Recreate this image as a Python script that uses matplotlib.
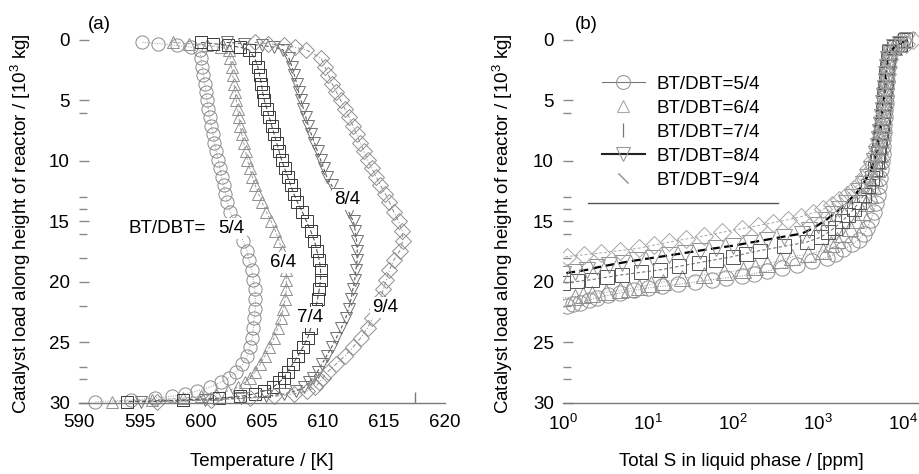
import matplotlib
matplotlib.use('Agg')
import matplotlib.pyplot as plt
from matplotlib.lines import Line2D
from matplotlib.ticker import FixedLocator, NullFormatter

plt.rcParams['font.family'] = ['Liberation Sans', 'DejaVu Sans']
plt.rcParams['mathtext.fontset'] = 'custom'
plt.rcParams['mathtext.rm'] = 'Liberation Sans'
plt.rcParams['mathtext.it'] = 'Liberation Sans:italic'
plt.rcParams['mathtext.bf'] = 'Liberation Sans:bold'

# ---------------- data ----------------
ratios = ['5/4', '6/4', '7/4', '8/4', '9/4']

# panel (a): temperature [K] vs catalyst load [10^3 kg] (same load positions for all ratios)
load_a = [0.2, 0.3, 0.45, 0.6, 0.8, 1.5, 2.2, 2.9, 3.6, 4.3, 5.0, 5.7, 6.4, 7.1, 7.8, 8.5, 9.2, 9.9, 10.6,
          11.3, 12.0, 12.7, 13.4, 14.2, 15.0, 15.8, 16.6, 17.4, 18.2, 19.0, 19.8, 20.6, 21.4, 22.2, 23.0, 23.8,
          24.6, 25.4, 26.1, 26.8, 27.4, 27.9, 28.3, 28.7, 29.0, 29.25, 29.45, 29.6, 29.75, 29.9]
temp_54 = [595.2, 596.5, 598.0, 599.2, 599.9, 600.0, 600.1, 600.2, 600.3, 600.4, 600.5, 600.6, 600.7, 600.85,
           601.0, 601.1, 601.25, 601.4, 601.55, 601.7, 601.85, 602.0, 602.15, 602.4, 602.75, 603.1, 603.45,
           603.75, 603.95, 604.15, 604.3, 604.4, 604.45, 604.45, 604.35, 604.3, 604.2, 604.0, 603.8, 603.4,
           602.9, 602.3, 601.6, 600.7, 599.7, 598.7, 597.6, 596.2, 594.3, 591.3]
temp_64 = [597.7, 599.0, 600.5, 601.6, 602.3, 602.4, 602.5, 602.6, 602.7, 602.8, 602.9, 603.0, 603.1, 603.2,
           603.35, 603.5, 603.65, 603.8, 604.0, 604.2, 604.45, 604.7, 605.0, 605.35, 605.75, 606.1, 606.4,
           606.65, 606.85, 606.95, 607.0, 607.0, 606.9, 606.75, 606.55, 606.3, 606.0, 605.6, 605.25, 604.85,
           604.45, 604.05, 603.6, 603.0, 602.2, 601.2, 600.0, 598.5, 596.0, 592.7]
temp_74 = [600.0, 601.0, 602.2, 603.2, 603.9, 604.4, 604.65, 604.8, 604.95, 605.05, 605.2, 605.4, 605.6, 605.8,
           606.0, 606.2, 606.4, 606.6, 606.85, 607.1, 607.35, 607.6, 607.9, 608.3, 608.65, 609.0, 609.3,
           609.5, 609.7, 609.8, 609.8, 609.7, 609.55, 609.4, 609.2, 609.0, 608.75, 608.35, 607.95, 607.5,
           607.1, 606.8, 606.4, 605.9, 605.2, 604.4, 603.2, 601.5, 598.5, 593.9]
temp_84 = [602.1, 603.5, 605.0, 606.0, 606.7, 607.2, 607.45, 607.65, 607.85, 608.0, 608.2, 608.4, 608.6, 608.8,
           609.05, 609.3, 609.55, 609.8, 610.05, 610.3, 610.7, 611.15, 611.6, 612.1, 612.5, 612.65, 612.75,
           612.8, 612.8, 612.7, 612.6, 612.45, 612.3, 612.1, 611.85, 611.5, 611.1, 610.7, 610.3, 609.9,
           609.55, 609.2, 608.85, 608.45, 607.8, 606.8, 605.3, 603.3, 600.3, 595.1]
temp_94 = [604.4, 605.5, 606.8, 607.7, 608.6, 609.85, 610.15, 610.45, 610.75, 611.1, 611.45, 611.8, 612.15,
           612.45, 612.75, 613.05, 613.35, 613.65, 614.0, 614.35, 614.7, 615.1, 615.45, 615.8, 616.2, 616.5,
           616.55, 616.3, 615.8, 615.45, 615.2, 614.95, 614.7, 614.4, 614.05, 613.65, 613.1, 612.45, 611.8,
           611.05, 610.4, 610.0, 609.7, 609.35, 608.7, 607.6, 606.0, 604.0, 600.8, 596.4]

# panel (b): total S in liquid phase [ppm] vs catalyst load [10^3 kg]
load_b_top = [0, 0.3, 0.6, 1.0, 1.6, 2.2, 2.8, 3.4, 4.0, 4.6, 5.2, 5.8, 6.4, 7.0, 7.6, 8.2, 8.8, 9.4, 10.0]
load_b_54 = load_b_top + [10.7, 11.4, 12.1, 12.8, 13.5, 14.2, 14.9, 15.5, 16.0, 16.5, 16.9, 17.3, 17.7,
                          18.0, 18.3, 18.6, 18.85, 19.1, 19.3, 19.5, 19.65, 19.8, 20.0, 20.2, 20.35, 20.5,
                          20.7, 20.9, 21.1, 21.3, 21.5, 21.7, 21.85, 22.0, 22.3]
sulfur_54 = [10000, 8913, 7943, 7079, 6761, 6607, 6531, 6457, 6310, 6310, 6237, 6166, 6095, 6026, 5957, 5888,
             5821, 5754, 5623, 5495, 5370, 5188, 5012, 4786, 4519, 4169, 3802, 3467, 3020, 2512, 1995, 1585,
             1259, 851, 562, 380, 251, 178, 126, 83, 56, 35.5, 22.4, 14.8, 10, 6.8, 4.7, 3.4, 2.5, 2.0, 1.58,
             1.32, 1.12, 0.71]
load_b_64 = load_b_top + [10.7, 11.4, 12.1, 12.8, 13.5, 14.2, 14.9, 15.5, 16.0, 16.5, 16.9, 17.4, 17.7,
                          17.9, 18.2, 18.5, 18.75, 19.0, 19.2, 19.4, 19.7, 20.0, 20.2, 20.4, 20.55, 20.7,
                          20.85, 21.0, 21.1, 21.2, 21.4]
sulfur_64 = [10000, 8913, 7943, 6918, 6683, 6531, 6457, 6310, 6166, 6095, 6026, 5957, 5888, 5754, 5689, 5559,
             5433, 5309, 5129, 4955, 4732, 4467, 4121, 3715, 3311, 2818, 2399, 1995, 1660, 1413, 1148, 759,
             501, 355, 251, 182, 132, 79, 45, 25, 15.1, 10.7, 7.9, 6.0, 4.7, 3.2, 2.2, 1.74, 1.38, 0.79]
load_b_74 = load_b_top + [10.7, 11.4, 12.1, 12.8, 13.4, 14.0, 14.5, 15.0, 15.5, 15.9, 16.3, 16.7, 17.05,
                          17.4, 17.65, 17.9, 18.15, 18.4, 18.7, 19.0, 19.2, 19.4, 19.6, 19.8, 19.95, 20.1,
                          20.3]
sulfur_74 = [10470, 9120, 7943, 6918, 6683, 6531, 6383, 6310, 6166, 6026, 5957, 5821, 5754, 5623, 5495, 5370,
             5248, 5070, 4898, 4624, 4315, 3890, 3467, 3020, 2630, 2239, 1905, 1585, 1318, 1072, 741, 398,
             209, 141, 100, 63, 40, 23.4, 13.8, 8.3, 5.0, 3.3, 2.2, 1.48, 1.0, 0.63]
load_b_84 = load_b_top + [10.7, 11.3, 11.9, 12.5, 13.0, 13.5, 14.0, 14.4, 14.9, 15.3, 15.7, 16.0, 16.25,
                          16.5, 16.75, 17.0, 17.2, 17.4, 17.6, 17.8, 18.0, 18.2, 18.4, 18.6, 18.8, 19.0,
                          19.15, 19.3, 19.5]
sulfur_84 = [11220, 9333, 7943, 7079, 6683, 6457, 6310, 6237, 6166, 6026, 5888, 5754, 5623, 5495, 5370, 5188,
             5012, 4786, 4571, 4217, 3802, 3388, 2951, 2512, 2138, 1778, 1514, 1230, 1000, 794, 646, 398, 251,
             158, 100, 63, 41, 27, 17.8, 11.5, 7.4, 5.0, 3.5, 2.5, 1.9, 1.38, 1.0, 0.63]
load_b_94 = load_b_top + [10.6, 11.2, 11.8, 12.3, 12.8, 13.2, 13.6, 14.0, 14.3, 14.6, 14.85, 15.1, 15.35,
                          15.6, 15.9, 16.2, 16.45, 16.7, 16.95, 17.2, 17.4, 17.6, 17.75, 17.9, 18.1]
sulfur_94 = [13183, 10715, 8511, 7244, 6761, 6607, 6457, 6310, 6166, 6095, 5957, 5821, 5689, 5559, 5370, 5188,
             4955, 4677, 4365, 3981, 3548, 3090, 2630, 2188, 1778, 1445, 1148, 871, 631, 447, 295, 195, 126,
             74, 45, 28, 17.8, 11.7, 7.9, 4.7, 2.8, 1.78, 1.12, 0.63]

# in-panel labels of panel (a): (temperature, load)
label_a_text = ['BT/DBT=', '5/4', '6/4', '7/4', '8/4', '9/4']
label_a_temp = [597.2, 602.5, 606.7, 608.9, 612.0, 615.1]
label_a_load = [15.6, 15.6, 18.4, 22.9, 13.2, 22.1]

x_a_ticks = [590, 595, 600, 605, 610, 615, 620]
x_b_ticks = [1, 10, 100, 1000, 10000]
y_ticks = [0, 5, 10, 15, 20, 25, 30]
y_minor_ticks = [6, 13, 14, 16, 18, 22, 27, 28]

# ---------------- styles ----------------
FS = 13.5
styles_a = [
    dict(marker='o', ms=9.5, mec='#8a8a8a', ls=(0, (1, 1.5)), color='#9a9a9a', lw=0.7),
    dict(marker='^', ms=9, mec='#8f8f8f', ls=(0, (3, 2)), color='#9a9a9a', lw=0.7),
    dict(marker='s', ms=8.5, mec='#3a3a3a', ls=(0, (4, 2)), color='#555555', lw=0.8),
    dict(marker='v', ms=9, mec='#707070', ls=(0, (3, 2)), color='#555555', lw=0.8),
    dict(marker='D', ms=8, mec='#8f8f8f', ls=(0, (4, 2, 1, 2)), color='#8a8a8a', lw=0.7),
]
styles_b = [
    dict(marker='o', ms=11, mec='#8f8f8f', ls=(0, (1, 1.5)), color='#8a8a8a', lw=0.7),
    dict(marker='^', ms=11, mec='#8f8f8f', ls=(0, (1, 1.5)), color='#999999', lw=0.7),
    dict(marker='s', ms=10, mec='#555555', ls=(0, (3, 2)), color='#777777', lw=0.8),
    dict(marker='v', ms=11, mec='#909090', ls=(0, (4, 2)), color='black', lw=1.6),
    dict(marker='D', ms=9, mec='#a5a5a5', ls=(0, (3, 2)), color='#aaaaaa', lw=0.7),
]

series_a = [(temp_54, load_a), (temp_64, load_a), (temp_74, load_a), (temp_84, load_a), (temp_94, load_a)]
series_b = [(sulfur_54, load_b_54), (sulfur_64, load_b_64), (sulfur_74, load_b_74),
            (sulfur_84, load_b_84), (sulfur_94, load_b_94)]

fig = plt.figure(figsize=(9.2, 4.74), dpi=100)
ax_a = fig.add_axes([0.08587, 0.14979, 0.39783, 0.7914])
ax_b = fig.add_axes([0.61196, 0.14979, 0.38804, 0.7914])

ylabel = 'Catalyst load along height of reactor / [10$^3$ kg]'


def style_axes(ax):
    for s in ['left', 'top', 'right']:
        ax.spines[s].set_visible(False)
    ax.spines['bottom'].set_color('#7a7a7a')
    ax.spines['bottom'].set_linewidth(1.0)
    ax.set_ylim(30, -1.0)
    ax.yaxis.set_major_locator(FixedLocator(y_ticks))
    ax.yaxis.set_minor_locator(FixedLocator(y_minor_ticks))
    ax.tick_params(axis='y', which='both', direction='in', length=7, width=1.0,
                   color='#8a8a8a', labelsize=FS, pad=6.5)
    ax.tick_params(axis='y', which='minor', length=6)
    ax.tick_params(axis='x', which='major', length=0, labelsize=FS, pad=8)
    ax.tick_params(axis='x', which='minor', direction='in', length=8, width=1.0, color='#7a7a7a')
    ax.set_ylabel(ylabel, fontsize=FS)


# ---------------- panel (a) ----------------
style_axes(ax_a)
for (t, y), st in zip(series_a, styles_a):
    ax_a.plot(t, y, mfc='none', mew=0.7, clip_on=False, **st)
ax_a.set_xlim(590, 620)
ax_a.xaxis.set_major_locator(FixedLocator(x_a_ticks))
ax_a.xaxis.set_minor_locator(FixedLocator([610, 615, 617.5]))
ax_a.xaxis.set_minor_formatter(NullFormatter())
ax_a.set_xlabel('Temperature / [K]', fontsize=FS)
ax_a.xaxis.set_label_coords(0.5, -0.133)
ax_a.yaxis.set_label_coords(-0.126, 0.477)
for txt, tx, ty in zip(label_a_text, label_a_temp, label_a_load):
    bb = None if txt.startswith('BT') else dict(facecolor='white', edgecolor='none', pad=1.5)
    ax_a.text(tx, ty, txt, fontsize=FS, ha='center', va='center', zorder=6, bbox=bb)
ax_a.text(0.0546, 1.008, '(a)', transform=ax_a.transAxes, fontsize=FS, ha='center', va='center')

# ---------------- panel (b) ----------------
style_axes(ax_b)
for (s, y), st in zip(series_b, styles_b):
    ax_b.plot(s, y, mfc='none', mew=0.7, **st)
ax_b.set_xscale('log')
ax_b.set_xlim(1, 10 ** 4.2)
ax_b.xaxis.set_major_locator(FixedLocator(x_b_ticks))
ax_b.xaxis.set_minor_locator(FixedLocator([10, 1000]))
ax_b.xaxis.set_minor_formatter(NullFormatter())
ax_b.tick_params(axis='x', which='major', length=0, labelsize=FS, pad=8)
ax_b.tick_params(axis='x', which='minor', direction='in', length=8, width=1.0, color='#7a7a7a')
ax_b.set_xlabel('Total S in liquid phase / [ppm]', fontsize=FS)
ax_b.xaxis.set_label_coords(0.5, -0.133)
ax_b.yaxis.set_label_coords(-0.134, 0.477)
ax_b.text(0.064, 1.008, '(b)', transform=ax_b.transAxes, fontsize=FS, ha='center', va='center')

handles = [
    Line2D([], [], marker='o', ms=10, mfc='none', mec='#999999', mew=0.8, color='#777777', lw=0.8),
    Line2D([], [], marker='^', ms=9, mfc='none', mec='#aaaaaa', mew=0.8, ls='none'),
    Line2D([], [], marker='|', ms=10, mec='#777777', mew=0.9, ls='none'),
    Line2D([], [], marker='v', ms=10, mfc='none', mec='#999999', mew=0.8, color='#222222', lw=1.5),
    Line2D([], [], marker=(2, 2, 45), ms=10, mec='#999999', mew=0.8, ls='none'),
]
leg = ax_b.legend(handles, ['BT/DBT=' + r for r in ratios], loc='upper left',
                  bbox_to_anchor=(0.109, 0.872), frameon=False, fontsize=FS,
                  handlelength=2.3, handletextpad=0.6, labelspacing=0.36,
                  borderpad=0, borderaxespad=0)
ax_b.axhline(13.5, xmin=0.07, xmax=0.602, color='#555555', lw=1.0)

fig.savefig('out.png', dpi=100)
